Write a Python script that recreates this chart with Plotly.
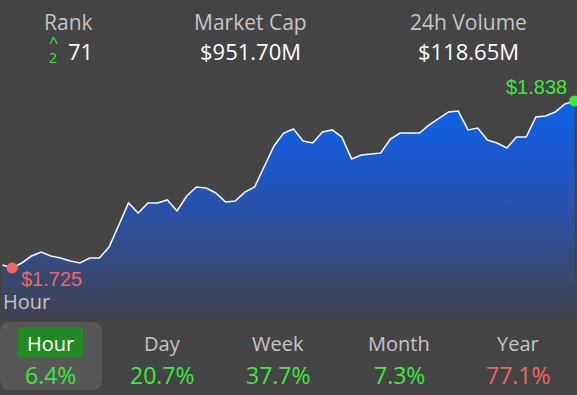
import plotly.graph_objects as go

# ---------------- data ----------------
price = [1.7270, 1.7250, 1.7284, 1.7331, 1.7358, 1.7331, 1.7318, 1.7297, 1.7284, 1.7318,
         1.7318, 1.7392, 1.7541, 1.7690, 1.7622, 1.7690, 1.7690, 1.7710, 1.7636, 1.7737,
         1.7798, 1.7791, 1.7758, 1.7697, 1.7703, 1.7764, 1.7798, 1.7940, 1.8076, 1.8163,
         1.8191, 1.8109, 1.8096, 1.8170, 1.8184, 1.8136, 1.7988, 1.8015, 1.8021, 1.8028,
         1.8123, 1.8163, 1.8163, 1.8163, 1.8218, 1.8265, 1.8306, 1.8312, 1.8184, 1.8197,
         1.8116, 1.8096, 1.8062, 1.8136, 1.8136, 1.8272, 1.8279, 1.8306, 1.8360, 1.8380]
step = list(range(len(price)))

header_labels = ["Rank", "Market Cap", "24h Volume"]
header_values = ["71", "$951.70M", "$118.65M"]
rank_change = "2"

periods = ["Hour", "Day", "Week", "Month", "Year"]
period_changes = ["6.4%", "20.7%", "37.7%", "7.3%", "77.1%"]
period_up = [True, True, True, True, False]
selected_period = "Hour"

# ---------------- layout helpers ----------------
W, H = 577, 395
BG = "#444444"
GREEN = "#3de83d"
RED = "#f26464"
GREY = "#c4c4c4"
FONT = "Open Sans"


def px(x):
    return x / W


def py(y):
    return 1 - y / H


# plot area occupies pixel rows 0..320
plot_bottom_px = 320
lo, hi = min(price), max(price)
lo_px, hi_px = 268, 101  # pixel rows where min/max sit
unit = (hi - lo) / (lo_px - hi_px)
y_top = hi + hi_px * unit
y_bot = lo - (plot_bottom_px - lo_px) * unit

imin = price.index(lo)
imax = price.index(hi)

fig = go.Figure()

fig.add_trace(go.Scatter(
    x=step, y=price, mode="lines",
    line=dict(color="#f0f4ff", width=1.6),
    fill="tozeroy",
    fillgradient=dict(
        type="vertical",
        colorscale=[[0.0, "rgb(64,66,76)"], [0.05, "rgb(62,66,86)"],
                    [0.25, "rgb(52,74,122)"], [0.46, "rgb(42,80,160)"],
                    [0.69, "rgb(30,88,200)"], [0.94, "rgb(16,96,225)"],
                    [1.0, "rgb(14,98,232)"]],
        start=y_bot, stop=hi),
    hoverinfo="skip", showlegend=False))

fig.add_trace(go.Scatter(x=[step[imin]], y=[lo], mode="markers",
                         marker=dict(color=RED, size=11), showlegend=False,
                         hoverinfo="skip"))
fig.add_trace(go.Scatter(x=[step[imax]], y=[hi], mode="markers",
                         marker=dict(color=GREEN, size=11), showlegend=False,
                         hoverinfo="skip"))

ann = []
ann.append(dict(x=step[imin], y=lo, xref="x", yref="y", text=f"${lo:.3f}",
                showarrow=False, xanchor="left", yanchor="middle",
                xshift=7, yshift=-11,
                font=dict(family="Liberation Sans", size=20, color=RED)))
ann.append(dict(x=step[imax], y=hi, xref="x", yref="y", text=f"${hi:.3f}",
                showarrow=False, xanchor="right", yanchor="middle",
                xshift=-6, yshift=14,
                font=dict(family="Liberation Sans", size=20, color=GREEN)))

# header
hx = [68, 250, 468]
for lab, val, cx in zip(header_labels, header_values, hx):
    ann.append(dict(x=px(cx), y=py(22), xref="paper", yref="paper", text=lab,
                    showarrow=False, xanchor="center", yanchor="middle",
                    font=dict(family=FONT, size=21, color=GREY)))
    vx = cx + 12 if lab == "Rank" else cx
    ann.append(dict(x=px(vx), y=py(51), xref="paper", yref="paper", text=val,
                    showarrow=False, xanchor="center", yanchor="middle",
                    font=dict(family=FONT, size=22, color="#ffffff")))
ann.append(dict(x=px(53), y=py(42), xref="paper", yref="paper", text="^",
                showarrow=False, xanchor="center", yanchor="middle",
                font=dict(family=FONT, size=16, color=GREEN)))
ann.append(dict(x=px(53), y=py(57), xref="paper", yref="paper", text=rank_change,
                showarrow=False, xanchor="center", yanchor="middle",
                font=dict(family=FONT, size=14, color=GREEN)))

# "Hour" chart label
ann.append(dict(x=px(1), y=py(301), xref="paper", yref="paper", text=selected_period,
                showarrow=False, xanchor="left", yanchor="middle",
                font=dict(family=FONT, size=20, color=GREY)))

# tabs
tx = [50, 162, 278, 399, 518]
shapes = []
for name, chg, up, cx in zip(periods, period_changes, period_up, tx):
    sel = name == selected_period
    ann.append(dict(x=px(cx), y=py(343), xref="paper", yref="paper", text=name,
                    showarrow=False, xanchor="center", yanchor="middle",
                    font=dict(family=FONT, size=20, color="#ffffff" if sel else GREY)))
    ann.append(dict(x=px(cx), y=py(375), xref="paper", yref="paper", text=chg,
                    showarrow=False, xanchor="center", yanchor="middle",
                    font=dict(family=FONT, size=23, color=GREEN if up else RED)))


def rrect(x0, y0, x1, y1, r):
    a, b, c, d = px(x0), py(y0), px(x1), py(y1)
    rx, ry = r / W, r / H
    return (f"M {a+rx},{b} L {c-rx},{b} Q {c},{b} {c},{b-ry} "
            f"L {c},{d+ry} Q {c},{d} {c-rx},{d} L {a+rx},{d} "
            f"Q {a},{d} {a},{d+ry} L {a},{b-ry} Q {a},{b} {a+rx},{b} Z")


shapes.append(dict(type="path", xref="paper", yref="paper",
                   path=rrect(0, 322, 102, 390, 10),
                   fillcolor="rgba(255,255,255,0.1)", line=dict(width=0),
                   layer="below"))
shapes.append(dict(type="path", xref="paper", yref="paper",
                   path=rrect(18, 327, 83, 358, 4),
                   fillcolor="#238a23", line=dict(width=0), layer="below"))

fig.update_layout(
    width=W, height=H,
    margin=dict(l=0, r=0, t=0, b=0),
    paper_bgcolor=BG, plot_bgcolor="rgba(0,0,0,0)",
    xaxis=dict(range=[-0.25, len(price) - 1 + 0.24], visible=False,
               domain=[0, 1], fixedrange=True),
    yaxis=dict(range=[y_bot, y_top], visible=False,
               domain=[1 - plot_bottom_px / H, 1], fixedrange=True),
    annotations=ann, shapes=shapes,
    showlegend=False,
)

fig.write_html("out.html", config={"displayModeBar": False},
               post_script="document.body.style.margin='0';"
                           "document.body.style.overflow='hidden';"
                           "document.body.style.background='#444444';")
